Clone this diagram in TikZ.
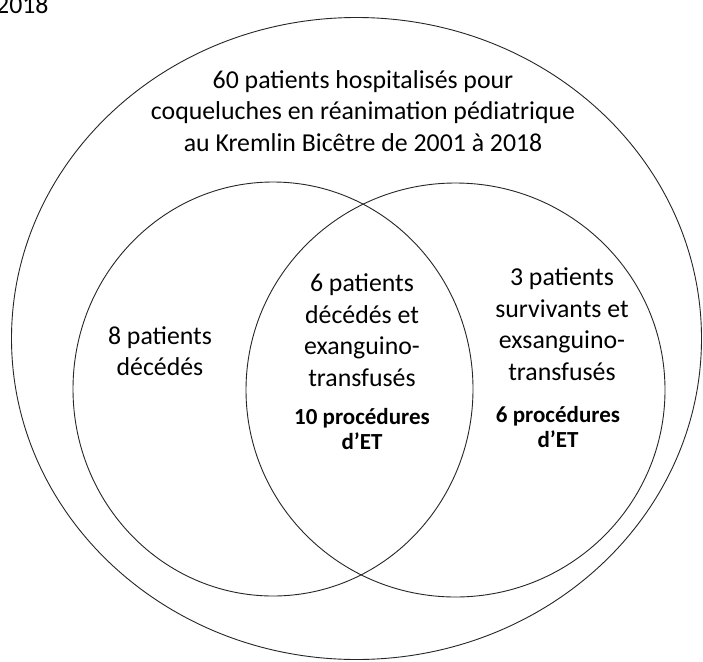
\documentclass[tikz,border=0pt]{standalone}
\usepackage{fontspec}
\setmainfont{Carlito}
\usetikzlibrary{shapes.geometric}
\tikzset{
  ring/.style={draw=black!85, line width=0.9pt, ellipse, inner sep=0pt},
  body/.style={align=center, font=\fontsize{25.8}{31.5}\selectfont, inner sep=0pt},
  boldtxt/.style={align=center, font=\fontsize{23}{25.5}\selectfont\bfseries, inner sep=0pt},
}
\begin{document}
\begin{tikzpicture}[x=1pt,y=-1pt]
\useasboundingbox (0,0) rectangle (703,661);
\fill[white] (0,0) rectangle (703,661);
\begin{scope}
\clip (0,0) rectangle (703,661);
\node[body, anchor=base west] (frag) at (-4,14) {2018};
\end{scope}
\node[ring, minimum width=690pt, minimum height=642pt] (outer) at (356.5,338.5) {};
\node[ring, minimum width=400pt, minimum height=414pt] (left) at (273,389) {};
\node[ring, minimum width=419pt, minimum height=414pt] (right) at (455.5,390) {};
\node[body] (title) at (363,111) {60 patients hospitalisés pour\\coqueluches en réanimation pédiatrique\\au Kremlin Bicêtre de 2001 à 2018};
\node[body] (dead) at (160,351) {8 patients\\décédés};
\node[body] (mid) at (362,330) {6 patients\\décédés et\\exanguino-\\transfusés};
\node[boldtxt] (midet) at (362,429) {10 procédures\\d’ET};
\node[body] (surv) at (562,324) {3 patients\\survivants et\\exsanguino-\\transfusés};
\node[boldtxt] (survet) at (558,427) {6 procédures\\d’ET};
\end{tikzpicture}
\end{document}
